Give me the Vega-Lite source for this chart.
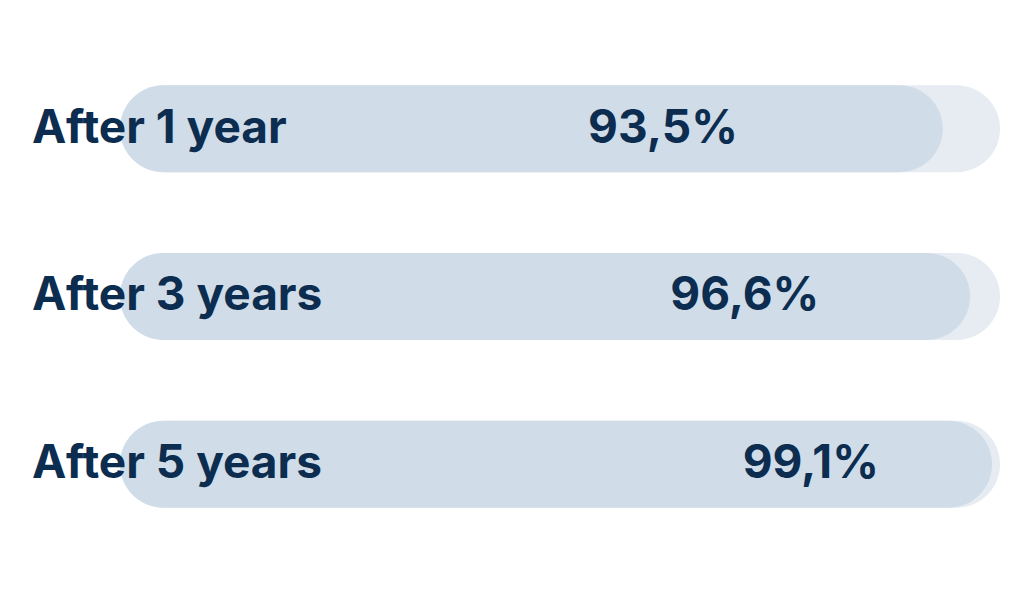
{
  "$schema": "https://vega.github.io/schema/vega-lite/v6.json",
  "width": 1024,
  "height": 600,
  "padding": 0,
  "autosize": "none",
  "background": "#ffffff",
  "config": {"view": {"stroke": null}},
  "data": {"values": [
    {"label": "After 1 year", "value": 93.5, "text": "93,5%", "order": 1},
    {"label": "After 3 years", "value": 96.6, "text": "96,6%", "order": 2},
    {"label": "After 5 years", "value": 99.1, "text": "99,1%", "order": 3}
  ]},
  "transform": [{"calculate": "datum.value * 3 - 218.8", "as": "labelAt"}],
  "encoding": {
    "y": {"field": "label", "type": "nominal", "sort": {"field": "order"},
      "scale": {"paddingInner": 0.481, "paddingOuter": 0.529, "align": 0.48}, "axis": null}
  },
  "resolve": {"scale": {"x": "shared"}},
  "layer": [
    {"mark": {"type": "bar", "color": "#e6ecf2", "cornerRadius": 43.5},
     "encoding": {"x": {"datum": 0, "type": "quantitative", "scale": {"domain": [-13.636, 102.727], "nice": false, "zero": false}, "axis": null}, "x2": {"datum": 100}}},
    {"mark": {"type": "bar", "color": "#d0dde9", "cornerRadius": 43.5},
     "encoding": {"x": {"field": "value", "type": "quantitative", "axis": null}, "x2": {"datum": 0}}},
    {"mark": {"type": "text", "align": "left", "baseline": "middle", "font": "Inter", "fontWeight": "bold", "fontSize": 46, "color": "#0c2d50"},
     "encoding": {"x": {"datum": -10, "type": "quantitative"}, "text": {"field": "label"}}},
    {"mark": {"type": "text", "align": "center", "baseline": "middle", "font": "Inter", "fontWeight": "bold", "fontSize": 46, "color": "#0c2d50"},
     "encoding": {"x": {"field": "labelAt", "type": "quantitative"}, "text": {"field": "text"}}}
  ]
}
